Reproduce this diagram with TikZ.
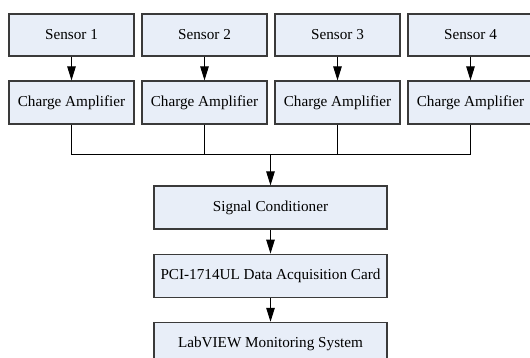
\documentclass[tikz,border=0pt]{standalone}
\usepackage{fontspec}
\setmainfont{Liberation Serif}
\usetikzlibrary{positioning,arrows.meta}

\definecolor{boxfill}{HTML}{E8EEF8}
\definecolor{boxline}{HTML}{3A3A3A}
\tikzset{
  block/.style={draw=boxline,fill=boxfill,line width=1.2pt,minimum height=42pt,
    inner sep=0pt,font=\fontsize{15.2}{18}\selectfont},
  flow/.style={-{Triangle[length=14pt,width=8.5pt]},line width=1pt},
  wire/.style={line width=1pt},
}

\begin{document}
\begin{tikzpicture}[x=1pt,y=-1pt]
\useasboundingbox (0,0) rectangle (530,358);
% sensors and their amplifiers
\foreach \i[evaluate=\i as \cx using 71.5+133*(\i-1)] in {1,...,4}{
  \node[block,minimum width=125pt] (s\i) at (\cx,35) {Sensor \i};
  \node[block,minimum width=125pt,minimum height=43pt] (a\i) at (\cx,102.5) {Charge Amplifier};
  \draw[flow] (s\i) -- (a\i);
}
% processing chain
\node[block,minimum width=233pt,minimum height=43pt] (sc) at (270.5,207.5) {Signal Conditioner};
\node[block,minimum width=233pt,minimum height=43pt,below=24pt of sc] (daq) {PCI-1714UL Data Acquisition Card};
\node[block,minimum width=233pt,minimum height=43pt,below=24pt of daq] (lab) {LabVIEW Monitoring System};
% bus
\coordinate (bus) at (sc.north |- 0,155);
\draw[wire] (a1.south) |- (a4.south |- bus) -- (a4.south);
\draw[wire] (a2.south) -- (a2.south |- bus);
\draw[wire] (a3.south) -- (a3.south |- bus);
\draw[flow] (bus) -- (sc);
\draw[flow] (sc) -- (daq);
\draw[flow] (daq) -- (lab);
\end{tikzpicture}
\end{document}
